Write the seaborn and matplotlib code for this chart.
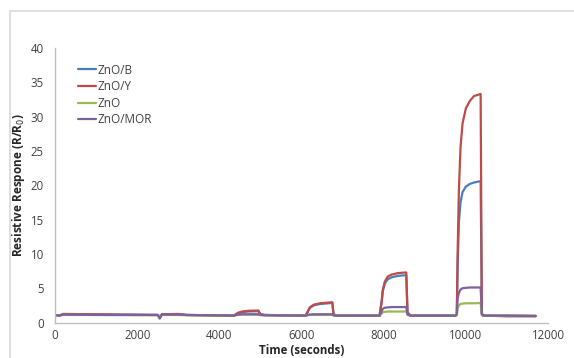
import pandas as pd
import seaborn as sns
import matplotlib.pyplot as plt
from matplotlib.patches import Rectangle

# Tempo (s) e risposte
time_s = [0, 100, 200, 1000, 2500, 2550, 2600, 3000, 3200, 4350, 4450, 4550, 4700, 4950,
          5000, 5100, 6100, 6150, 6200, 6300, 6450, 6750, 6780, 6850, 7900, 7950, 7980,
          8030, 8100, 8200, 8350, 8550, 8580, 8650, 9750, 9780, 9800, 9830, 9870, 9920,
          10000, 10100, 10200, 10360, 10390, 10420, 10500, 11000, 11700]

zno_b = [1.1, 1.0, 1.2, 1.15, 1.1, 0.9, 1.15, 1.2, 1.1, 1.0, 1.3, 1.5, 1.6, 1.65,
         1.2, 1.1, 1.0, 1.5, 2.1, 2.5, 2.7, 2.85, 1.2, 1.0, 1.0, 3.0, 4.6,
         5.7, 6.3, 6.6, 6.8, 6.9, 1.4, 1.0, 1.0, 1.2, 8.0, 14.5, 17.5, 19.0,
         19.8, 20.2, 20.4, 20.6, 1.3, 1.05, 1.0, 1.0, 0.95]

zno_y = [1.1, 1.0, 1.25, 1.2, 1.1, 0.6, 1.2, 1.25, 1.1, 1.0, 1.4, 1.6, 1.7, 1.75,
         1.2, 1.1, 1.0, 1.6, 2.2, 2.6, 2.8, 2.95, 1.2, 1.0, 1.0, 3.0, 4.8,
         6.0, 6.7, 7.0, 7.2, 7.3, 1.5, 1.0, 1.0, 1.2, 10.0, 19.0, 25.5, 29.0,
         31.2, 32.3, 33.0, 33.3, 1.3, 1.05, 1.0, 0.9, 0.9]

zno = [1.05, 1.0, 1.1, 1.1, 1.05, 0.9, 1.1, 1.1, 1.05, 1.0, 1.1, 1.15, 1.15, 1.15,
       1.1, 1.05, 1.0, 1.05, 1.1, 1.1, 1.1, 1.1, 1.0, 1.0, 1.0, 1.3, 1.5,
       1.55, 1.6, 1.6, 1.6, 1.6, 1.1, 1.0, 1.0, 1.1, 2.0, 2.5, 2.7, 2.75,
       2.8, 2.8, 2.8, 2.85, 1.1, 1.0, 1.0, 1.0, 1.0]

zno_mor = [1.1, 1.0, 1.15, 1.1, 1.1, 0.6, 1.15, 1.15, 1.1, 1.0, 1.15, 1.2, 1.2, 1.2,
           1.1, 1.05, 1.0, 1.1, 1.15, 1.2, 1.2, 1.2, 1.05, 1.0, 1.0, 1.6, 2.0,
           2.15, 2.2, 2.25, 2.25, 2.25, 1.2, 1.0, 1.0, 1.2, 3.5, 4.3, 4.8, 5.0,
           5.05, 5.1, 5.1, 5.1, 1.2, 1.0, 1.0, 1.0, 0.95]

series_names = ['ZnO/B', 'ZnO/Y', 'ZnO', 'ZnO/MOR']
colori = ['#4a7ebb', '#be4b48', '#98b954', '#7d60a0']

df = pd.DataFrame({'time': time_s, 'ZnO/B': zno_b, 'ZnO/Y': zno_y,
                   'ZnO': zno, 'ZnO/MOR': zno_mor})
df_long = df.melt(id_vars='time', var_name='serie', value_name='resp')

sns.set_theme(style='white')
plt.rcParams['font.family'] = ['Open Sans', 'DejaVu Sans']

fig = plt.figure(figsize=(5.74, 3.58), dpi=100)
# cornice grigia stile Excel
fig.patches.append(Rectangle((10 / 574, -0.2), 1.2, 1 - 11 / 358 + 0.2,
                             transform=fig.transFigure, fill=False,
                             edgecolor='#d9d9d9', linewidth=1.2))
ax = fig.add_axes([55 / 574, 1 - 322.5 / 358, 493 / 574, 274.5 / 358])

sns.lineplot(data=df_long, x='time', y='resp', hue='serie', hue_order=series_names,
             palette=colori, sort=False, linewidth=1.6, ax=ax)

ax.set_xlim(0, 12000)
ax.set_ylim(0, 40)
ax.set_xticks(range(0, 12001, 2000))
ax.set_yticks(range(0, 41, 5))
ax.tick_params(axis='both', length=0, labelsize=8.3, labelcolor='#404040')
ax.tick_params(axis='y', pad=8)
ax.tick_params(axis='x', pad=5)
for s in ['top', 'right']:
    ax.spines[s].set_visible(False)
for s in ['left', 'bottom']:
    ax.spines[s].set_color('#bfbfbf')
    ax.spines[s].set_linewidth(1.0)

ax.set_xlabel('Time (seconds)', fontsize=8.3, fontweight='bold', color='#262626',
              va='bottom')
ax.set_ylabel('Resistive Respone (R/R$_0$)', fontsize=8.5, fontweight='bold', color='#262626')
ax.xaxis.set_label_coords(0.5, -(357.5 - 322.5) / 274.5)
ax.yaxis.set_label_coords(-0.056, 0.5)

ax.legend(loc='upper left', bbox_to_anchor=(0.026, 0.982), frameon=False,
          fontsize=8.5, handlelength=1.5, handletextpad=0.1, labelspacing=0.3,
          labelcolor='#404040')

fig.savefig('out.png', dpi=100)
